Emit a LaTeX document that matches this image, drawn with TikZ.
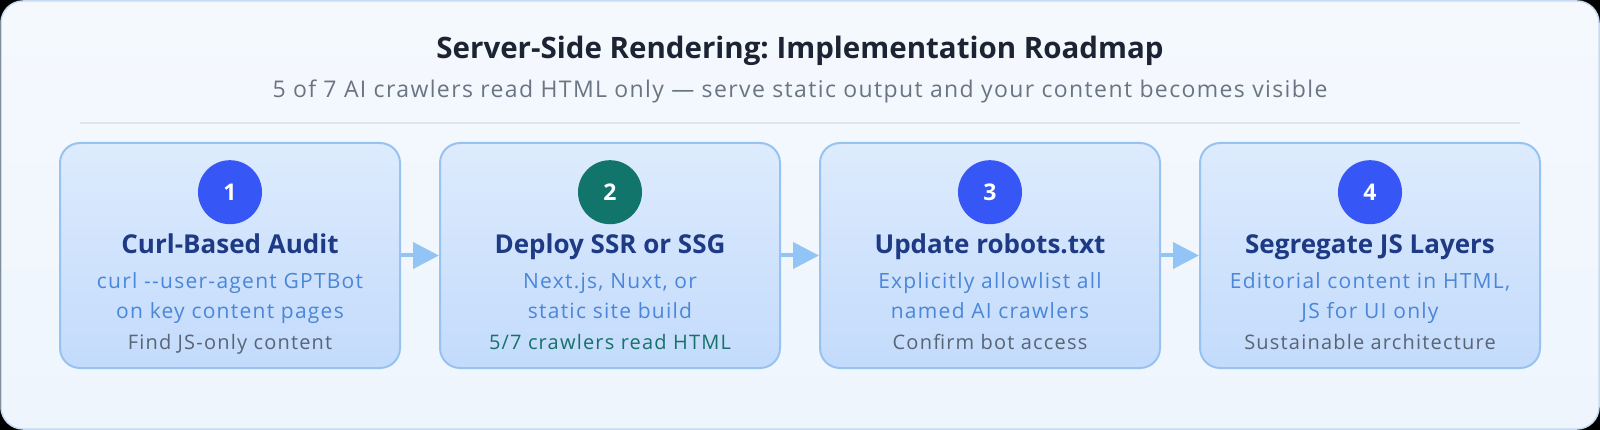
\documentclass[tikz,border=0pt]{standalone}
\usepackage{fontspec}
\setmainfont{Open Sans}
\newfontfamily\widefont{Open Sans}[LetterSpace=6]
\usetikzlibrary{positioning}
\usetikzlibrary{arrows.meta}
\frenchspacing

\definecolor{panelfill}{HTML}{EEF5FD}
\definecolor{panelline}{HTML}{C6DBF3}
\definecolor{ruleline}{HTML}{DCE6F1}
\definecolor{boxtop}{HTML}{DDEBFD}
\definecolor{boxbottom}{HTML}{C3DBFC}
\definecolor{boxline}{HTML}{98C3F1}
\definecolor{badgeblue}{HTML}{3656F5}
\definecolor{badgegreen}{HTML}{11756B}
\definecolor{headnavy}{HTML}{1E3A84}
\definecolor{detailblue}{HTML}{4A86DA}
\definecolor{notegray}{HTML}{596474}
\definecolor{noteteal}{HTML}{17716A}
\definecolor{titleink}{HTML}{1C2434}
\definecolor{subink}{HTML}{6B7482}
\definecolor{arrowblue}{HTML}{93C4F6}

\begin{document}
\begin{tikzpicture}[
x=1pt,y=-1pt,
stepbox/.style={
	% The shape:
	rectangle,rounded corners=20pt,
	% The size:
	minimum width=340pt,minimum height=225pt,
	% The border:
	line width=2pt,draw=boxline,
	% The filling:
	top color=boxtop,bottom color=boxbottom},
badge/.style={
	circle,minimum size=64pt,inner sep=0pt,
	text=white,font=\fontsize{23}{23}\selectfont\bfseries},
heading/.style={
	anchor=base,inner sep=0pt,text=headnavy,
	font=\fontsize{26}{26}\selectfont\bfseries},
detail/.style={
	anchor=base,inner sep=0pt,text=detailblue,
	font=\widefont\fontsize{21}{21}\selectfont},
note/.style={
	anchor=base,inner sep=0pt,text=notegray,
	font=\widefont\fontsize{20}{20}\selectfont},
flow/.style={
	line width=4pt,draw=arrowblue,
	-{Triangle[length=26pt,width=26pt]}},
]

% background and panel
\fill[black] (0,0) rectangle (1600,430);
\draw[panelline,line width=1.5pt,top color=white!40!panelfill,bottom color=panelfill,rounded corners=22pt]
	(1,1) rectangle (1599,429);

% title
\node (title) [inner sep=0pt,anchor=base,text=titleink,font=\fontsize{29.5}{29.5}\selectfont\bfseries] at (800,59)
	{Server-Side Rendering: Implementation Roadmap};
\node (subtitle) [inner sep=0pt,anchor=base,text=subink,font=\widefont\fontsize{23}{23}\selectfont] at (800,98)
	{5 of 7 AI crawlers read HTML only — serve static output and your content becomes visible};
\draw[ruleline,line width=1.5pt] (80,123) -- (1520,123);

% steps
\node (box1) [stepbox] at (230,255.5) {};
\node (box2) [stepbox] at (610,255.5) {};
\node (box3) [stepbox] at (990,255.5) {};
\node (box4) [stepbox] at (1370,255.5) {};

\node (num1) [badge,fill=badgeblue,below=18pt of box1.north] {1};
\node (num2) [badge,fill=badgegreen,below=18pt of box2.north] {2};
\node (num3) [badge,fill=badgeblue,below=18pt of box3.north] {3};
\node (num4) [badge,fill=badgeblue,below=18pt of box4.north] {4};

\node (head1) [heading] at (230,254) {Curl-Based Audit};
\node (head2) [heading] at (610,254) {Deploy SSR or SSG};
\node (head3) [heading] at (990,254) {Update robots.txt};
\node (head4) [heading] at (1370,254) {Segregate JS Layers};

\node (detail1a) [detail] at (230,288) {curl -{}-user-agent GPTBot};
\node (detail1b) [detail] at (230,318) {on key content pages};
\node (detail2a) [detail] at (610,288) {Next.js, Nuxt, or};
\node (detail2b) [detail] at (610,318) {static site build};
\node (detail3a) [detail] at (990,288) {Explicitly allowlist all};
\node (detail3b) [detail] at (990,318) {named AI crawlers};
\node (detail4a) [detail] at (1370,288) {Editorial content in HTML,};
\node (detail4b) [detail] at (1370,318) {JS for UI only};

\node (note1) [note] at (230,349) {Find JS-only content};
\node (note2) [note,text=noteteal] at (610,349) {5/7 crawlers read HTML};
\node (note3) [note] at (990,349) {Confirm bot access};
\node (note4) [note] at (1370,349) {Sustainable architecture};

% connectors
\draw[flow] (box1) -- (box2);
\draw[flow] (box2) -- (box3);
\draw[flow] (box3) -- (box4);
\end{tikzpicture}
\end{document}
